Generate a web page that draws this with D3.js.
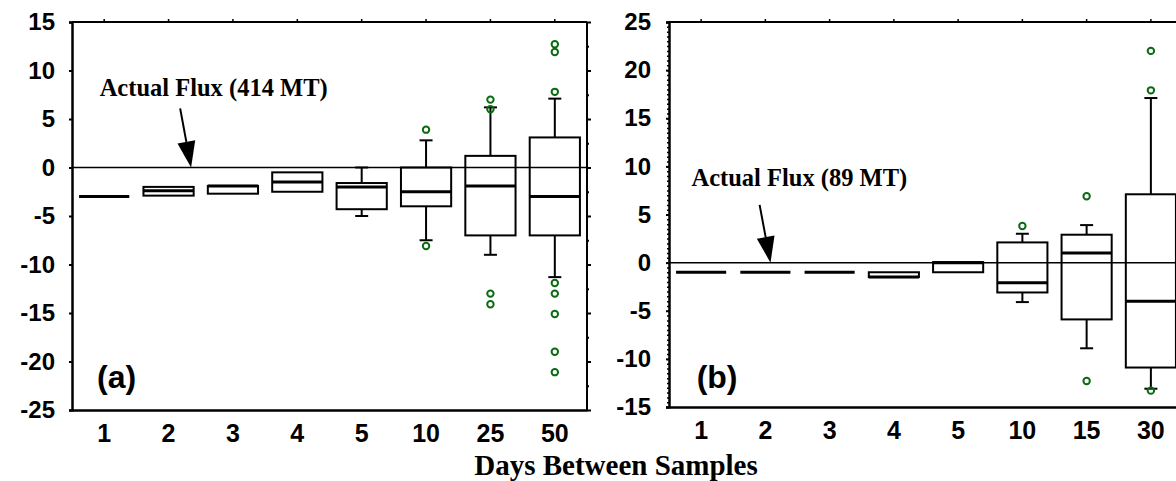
<!DOCTYPE html>
<html>
<head>
<meta charset="utf-8">
<script src="https://cdn.jsdelivr.net/npm/d3@7/dist/d3.min.js"></script>
<style>
  body { margin: 0; background: #fff; }
  svg { display: block; }
</style>
</head>
<body>
<div id="chart"></div>
<script>
// panel (a): 414 MT
var catsA = ["1", "2", "3", "4", "5", "10", "25", "50"];
var loA   = [-3.0, -2.9, -2.7, -2.5, -5.0, -7.5, -9.0, -11.3];
var q1A   = [-3.0, -2.9, -2.7, -2.5, -4.3, -4.0, -7.0, -7.0];
var medA  = [-3.0, -2.4, -1.9, -1.5, -2.0, -2.5, -1.9, -3.0];
var q3A   = [-3.0, -2.0, -1.9, -0.5, -1.6, 0.0, 1.2, 3.1];
var hiA   = [-3.0, -2.0, -1.9, -0.5, 0.0, 2.8, 6.2, 7.1];
var outA  = [[], [], [], [], [], [3.9, -8.1], [7.0, 6.0, -13.0, -14.1],
             [12.7, 11.9, 7.8, -11.9, -13.0, -15.1, -19.0, -21.1]];
var yTicksA = [-25, -20, -15, -10, -5, 0, 5, 10, 15];

// panel (b): 89 MT
var catsB = ["1", "2", "3", "4", "5", "10", "15", "30"];
var loB   = [-1.0, -1.0, -1.0, -1.5, -1.0, -4.1, -8.9, -13.1];
var q1B   = [-1.0, -1.0, -1.0, -1.5, -1.0, -3.1, -5.9, -10.9];
var medB  = [-1.0, -1.0, -1.0, -1.5, 0.0, -2.1, 1.0, -4.0];
var q3B   = [-1.0, -1.0, -1.0, -1.0, 0.05, 2.1, 2.9, 7.1];
var hiB   = [-1.0, -1.0, -1.0, -1.0, 0.05, 3.0, 3.9, 17.1];
var outB  = [[], [], [], [], [], [3.8], [6.9, -12.3], [22.0, 17.9, -13.3]];
var yTicksB = [-15, -10, -5, 0, 5, 10, 15, 20, 25];

var sans = "'Liberation Sans', Arial, sans-serif";
var serif = "'Liberation Serif', 'Times New Roman', serif";
var green = "#0b6a12";

var svg = d3.select("#chart").append("svg")
            .attr("width", 1176)
            .attr("height", 481);

svg.append("rect")
   .attr("width", 1176)
   .attr("height", 481)
   .attr("fill", "#fff");

function drawPanel(p) {
  var rows = p.cats.map(function (c, i) {
    return { cat: c, lo: p.lo[i], q1: p.q1[i], med: p.med[i], q3: p.q3[i], hi: p.hi[i], out: p.out[i] };
  });

  var x = d3.scaleBand()
            .domain(p.cats)
            .range([p.left, p.right])
            .paddingInner(0.22)
            .paddingOuter(0.11);

  var y = d3.scaleLinear()
            .domain(p.yDomain)
            .range([p.bottom, p.top]);

  // position along category index, for annotations
  var xi = d3.scaleLinear()
             .domain([0, p.cats.length - 1])
             .range([x(p.cats[0]) + x.bandwidth() / 2, x(p.cats[p.cats.length - 1]) + x.bandwidth() / 2]);

  var g = svg.append("g");

  // frame
  g.append("line").attr("x1", p.left).attr("x2", p.right).attr("y1", p.top).attr("y2", p.top)
   .attr("stroke", "#000").attr("stroke-width", 2);
  g.append("line").attr("x1", p.right).attr("x2", p.right).attr("y1", p.top).attr("y2", p.bottom)
   .attr("stroke", "#000").attr("stroke-width", 2);

  // top ticks at categories
  g.append("g")
   .attr("transform", "translate(0," + p.top + ")")
   .call(d3.axisTop(x).tickSize(3).tickFormat(""))
   .call(function (a) { a.select(".domain").remove(); })
   .selectAll("line").attr("stroke-width", 1.5);

  // right edge ticks
  g.append("g")
   .attr("transform", "translate(" + p.right + ",0)")
   .call(d3.axisRight(y).tickValues(p.yTicks).tickSize(4).tickFormat(""))
   .call(function (a) { a.select(".domain").remove(); })
   .selectAll("line").attr("stroke-width", 2);
  g.append("g")
   .attr("transform", "translate(" + p.right + ",0)")
   .call(d3.axisRight(y).tickValues(p.yTicks.slice(1).map(function (d) { return d - 2.5; })).tickSize(2).tickFormat(""))
   .call(function (a) { a.select(".domain").remove(); })
   .selectAll("line").attr("stroke-width", 2);

  // minor ticks on the left axis (panel b)
  if (p.minor) {
    g.append("g")
     .attr("transform", "translate(" + p.left + ",0)")
     .call(d3.axisLeft(y).tickValues(d3.range(p.yDomain[0], p.yDomain[1] + 0.01, 0.5)).tickSize(2).tickFormat(""))
     .call(function (a) { a.select(".domain").remove(); })
     .selectAll("line").attr("stroke-width", 1.5);
  }

  // y axis
  var ya = g.append("g")
            .attr("transform", "translate(" + p.left + ",0)")
            .call(d3.axisLeft(y).tickValues(p.yTicks).tickSize(3).tickPadding(p.yPad)
                    .tickFormat(function (d) { return String(d); }));
  ya.select(".domain").attr("stroke-width", 2.5);
  ya.selectAll("line").attr("stroke-width", 2);
  ya.selectAll("text")
    .attr("font-family", sans)
    .attr("font-weight", "bold")
    .attr("font-size", "24px")
    .attr("fill", "#000");

  // x axis
  var xa = g.append("g")
            .attr("transform", "translate(0," + p.bottom + ")")
            .call(d3.axisBottom(x).tickSize(0).tickPadding(14));
  xa.select(".domain").attr("stroke-width", 2.5);
  xa.selectAll("text")
    .attr("font-family", sans)
    .attr("font-weight", "bold")
    .attr("font-size", "25px")
    .attr("fill", "#000");

  // actual flux line
  g.append("line")
   .attr("x1", p.left).attr("x2", p.right)
   .attr("y1", y(0)).attr("y2", y(0))
   .attr("stroke", "#000")
   .attr("stroke-width", 1.5);

  var box = g.selectAll(".box").data(rows).enter().append("g").attr("class", "box");

  // whiskers
  box.filter(function (d) { return d.hi > d.q3; }).append("line")
     .attr("x1", function (d) { return x(d.cat) + x.bandwidth() / 2; })
     .attr("x2", function (d) { return x(d.cat) + x.bandwidth() / 2; })
     .attr("y1", function (d) { return y(d.q3); })
     .attr("y2", function (d) { return y(d.hi); })
     .attr("stroke", "#000").attr("stroke-width", 2);
  box.filter(function (d) { return d.hi > d.q3; }).append("line")
     .attr("x1", function (d) { return x(d.cat) + x.bandwidth() / 2 - 6.5; })
     .attr("x2", function (d) { return x(d.cat) + x.bandwidth() / 2 + 6.5; })
     .attr("y1", function (d) { return y(d.hi); })
     .attr("y2", function (d) { return y(d.hi); })
     .attr("stroke", "#000").attr("stroke-width", 2);
  box.filter(function (d) { return d.lo < d.q1; }).append("line")
     .attr("x1", function (d) { return x(d.cat) + x.bandwidth() / 2; })
     .attr("x2", function (d) { return x(d.cat) + x.bandwidth() / 2; })
     .attr("y1", function (d) { return y(d.q1); })
     .attr("y2", function (d) { return y(d.lo); })
     .attr("stroke", "#000").attr("stroke-width", 2);
  box.filter(function (d) { return d.lo < d.q1; }).append("line")
     .attr("x1", function (d) { return x(d.cat) + x.bandwidth() / 2 - 6.5; })
     .attr("x2", function (d) { return x(d.cat) + x.bandwidth() / 2 + 6.5; })
     .attr("y1", function (d) { return y(d.lo); })
     .attr("y2", function (d) { return y(d.lo); })
     .attr("stroke", "#000").attr("stroke-width", 2);

  // boxes
  box.filter(function (d) { return d.q3 > d.q1; }).append("rect")
     .attr("x", function (d) { return x(d.cat); })
     .attr("y", function (d) { return y(d.q3); })
     .attr("width", x.bandwidth())
     .attr("height", function (d) { return y(d.q1) - y(d.q3); })
     .attr("fill", "none")
     .attr("stroke", "#000")
     .attr("stroke-width", 2);

  // medians
  box.append("line")
     .attr("x1", function (d) { return x(d.cat); })
     .attr("x2", function (d) { return x(d.cat) + x.bandwidth(); })
     .attr("y1", function (d) { return y(d.med); })
     .attr("y2", function (d) { return y(d.med); })
     .attr("stroke", "#000")
     .attr("stroke-width", 3);

  // outliers
  box.selectAll("circle")
     .data(function (d) { return d.out.map(function (v) { return { cat: d.cat, v: v }; }); })
     .enter().append("circle")
     .attr("cx", function (d) { return x(d.cat) + x.bandwidth() / 2; })
     .attr("cy", function (d) { return y(d.v); })
     .attr("r", 3.2)
     .attr("fill", "none")
     .attr("stroke", green)
     .attr("stroke-width", 2);

  // annotation
  g.append("text")
   .attr("x", xi(p.note.i))
   .attr("y", y(p.note.v))
   .text(p.note.text)
   .attr("font-family", serif)
   .attr("font-weight", "bold")
   .attr("font-size", "24.5px")
   .attr("fill", "#000");

  var ax0 = xi(p.arrow.i0), ay0 = y(p.arrow.v0), ax1 = xi(p.arrow.i1), ay1 = y(0);
  var ang = Math.atan2(ay1 - ay0, ax1 - ax0);
  var hl = 26, hw = 9;
  var bx = ax1 - hl * Math.cos(ang), by = ay1 - hl * Math.sin(ang);
  g.append("line")
   .attr("x1", ax0).attr("y1", ay0).attr("x2", bx).attr("y2", by)
   .attr("stroke", "#000").attr("stroke-width", 2);
  g.append("path")
   .attr("d", "M" + ax1 + "," + ay1 +
              "L" + (bx + hw * Math.sin(ang)) + "," + (by - hw * Math.cos(ang)) +
              "L" + (bx - hw * Math.sin(ang)) + "," + (by + hw * Math.cos(ang)) + "Z")
   .attr("fill", "#000");

  // panel label
  g.append("text")
   .attr("x", xi(p.label.i))
   .attr("y", y(p.label.v))
   .text(p.label.text)
   .attr("font-family", sans)
   .attr("font-weight", "bold")
   .attr("font-size", "32px")
   .attr("fill", "#000");
}

drawPanel({
  cats: catsA, lo: loA, q1: q1A, med: medA, q3: q3A, hi: hiA, out: outA,
  yDomain: [-25, 15], yTicks: yTicksA,
  left: 72, right: 587, top: 22, bottom: 410, yPad: 14, minor: false,
  note: { text: "Actual Flux (414 MT)", i: -0.07, v: 7.4 },
  arrow: { i0: 1.18, v0: 6.1, i1: 1.35 },
  label: { text: "(a)", i: -0.11, v: -22.7 }
});

drawPanel({
  cats: catsB, lo: loB, q1: q1B, med: medB, q3: q3B, hi: hiB, out: outB,
  yDomain: [-15, 25], yTicks: yTicksB,
  left: 669, right: 1183, top: 22, bottom: 407, yPad: 15, minor: true,
  note: { text: "Actual Flux (89 MT)", i: -0.15, v: 8.0 },
  arrow: { i0: 0.91, v0: 6.0, i1: 1.08 },
  label: { text: "(b)", i: -0.07, v: -13.0 }
});

svg.append("text")
   .attr("x", 616)
   .attr("y", 475)
   .attr("text-anchor", "middle")
   .text("Days Between Samples")
   .attr("font-family", serif)
   .attr("font-weight", "bold")
   .attr("font-size", "29px")
   .attr("fill", "#000");
</script>
</body>
</html>
